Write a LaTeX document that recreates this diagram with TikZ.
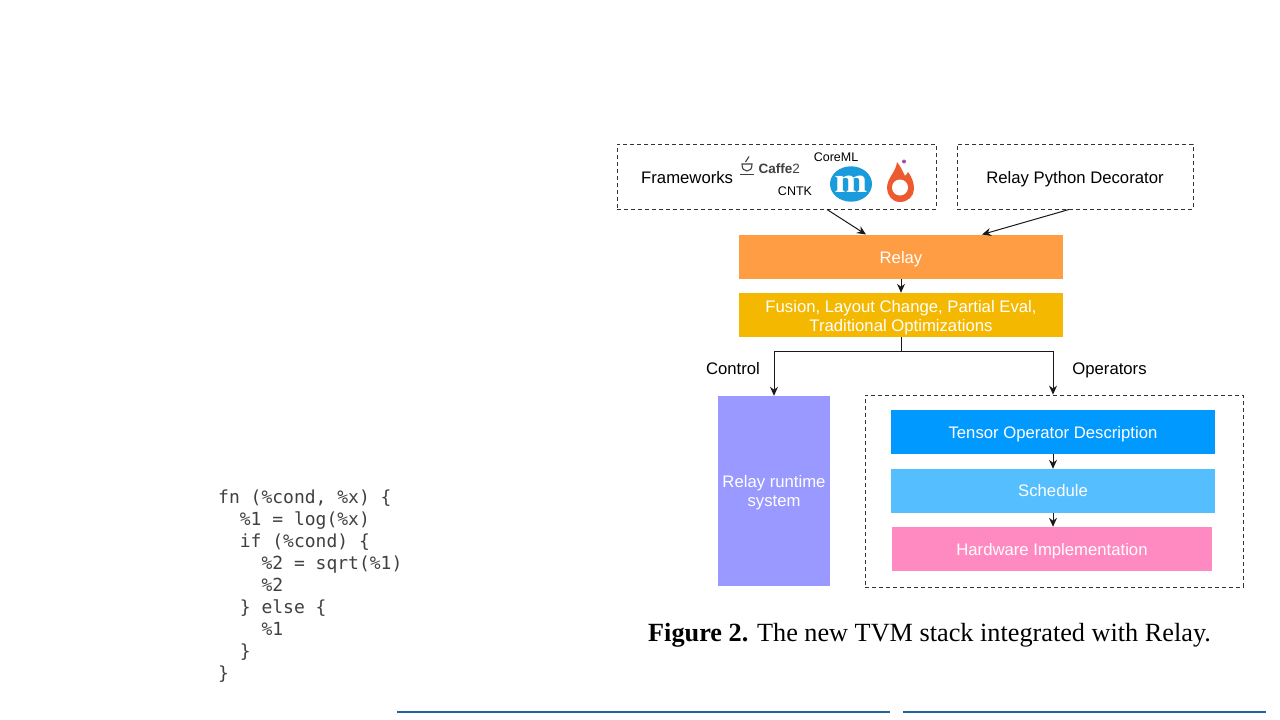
\documentclass[tikz,border=0pt]{standalone}
\usepackage{fontspec}
\usepackage{xcolor}
\usetikzlibrary{arrows.meta}
\setmainfont{Liberation Sans}
\newfontfamily\capfont{Liberation Serif}
\newfontfamily\codefont{DejaVu Sans Mono}
\definecolor{relayorange}{HTML}{FF9D45}
\definecolor{fusionyellow}{HTML}{F5B800}
\definecolor{runtimeviolet}{HTML}{9999FF}
\definecolor{tensorblue}{HTML}{0099FF}
\definecolor{scheduleblue}{HTML}{54BEFF}
\definecolor{hardwarepink}{HTML}{FF8AC2}
\definecolor{rulelineblue}{HTML}{22659C}
\definecolor{flameorange}{HTML}{EE5A2F}
\definecolor{mlblue}{HTML}{1A9BDB}
\tikzset{
  block/.style={inner sep=0pt},
  blocktext/.style={inner sep=0pt, text=white, align=center, font=\fontsize{16.7}{19.5}\selectfont},
  dashbox/.style={draw=black!80, dash pattern=on 4pt off 3pt, inner sep=0pt, line width=0.8pt},
  plaintext/.style={inner sep=0pt, font=\fontsize{16.7}{19.5}\selectfont},
  smalltext/.style={inner sep=0pt, font=\fontsize{12.5}{15}\selectfont},
  arrow/.style={-{Stealth[length=9pt, width=8pt]}, line width=1pt, black!90}
}
\begin{document}
\begin{tikzpicture}[x=1pt, y=-1pt]
  \useasboundingbox (0,0) rectangle (1280,720);

  % The two boxes on top
  \node[dashbox, minimum width=319pt, minimum height=65pt] (frameworks) at (776.5,176.5) {};
  \node[dashbox, minimum width=236pt, minimum height=65pt] (decorator) at (1075,176.5) {};
  \node[plaintext, anchor=west] (fwname) at (641,178) {Frameworks};
  \node[plaintext] (decname) at (1075,179) {Relay Python Decorator};

  % Logos inside the frameworks box
  \draw[line width=1.1pt, black!75] (742,164) -- (752,164) .. controls (752,169) and (750,171) .. (747,171)
    .. controls (744,171) and (742,169) .. (742,164) -- cycle;
  \draw[line width=1.1pt, black!75] (740,174.5) -- (754,174.5);
  \draw[line width=1.1pt, black!75] (745.5,162) -- (749,156.5);
  \node[inner sep=0pt, anchor=west, text=black!75, font=\fontsize{13.5}{16}\selectfont] (caffe) at (758.5,169) {\textbf{Caffe}2};
  \node[smalltext] (coreml) at (836,157) {CoreML};
  \node[smalltext] (cntk) at (795,191) {CNTK};
  \fill[mlblue] (851,184) ellipse (21 and 17.7);
  \node[inner sep=0pt, text=white, font=\capfont\bfseries\fontsize{35}{35}\selectfont] (mletter) at (851,184) {\scalebox{1.12}[1]{m}};
  \fill[flameorange] (900,202) .. controls (892,202) and (887,195) .. (887,188)
    .. controls (887,178) and (896,172) .. (897,162)
    .. controls (901,167) and (903,172) .. (905,176)
    .. controls (906,175) and (907,174) .. (908,172)
    .. controls (912,177) and (914,183) .. (914,189)
    .. controls (914,196) and (908,202) .. (900,202) -- cycle;
  \fill[white] (900,187.5) circle (8);
  \fill[violet!70] (904,161.5) circle (2);

  % Main stack
  \node[block, fill=relayorange, minimum width=324pt, minimum height=44pt,
    label={[blocktext, yshift=-2.5pt]center:Relay}] (relay) at (901,257) {};
  \node[block, fill=fusionyellow, minimum width=324pt, minimum height=44pt,
    label={[blocktext, yshift=-2.5pt]center:{Fusion, Layout Change, Partial Eval,\\Traditional Optimizations}}] (fusion) at (901,315) {};
  \node[block, fill=runtimeviolet, minimum width=112pt, minimum height=190pt,
    label={[blocktext, yshift=-1.5pt]center:{Relay runtime\\system}}] (runtime) at (774,491) {};

  % Operators box
  \node[dashbox, minimum width=378pt, minimum height=192pt] (operators) at (1054,491) {};
  \node[block, fill=tensorblue, minimum width=324pt, minimum height=44pt,
    label={[blocktext, yshift=-2.5pt]center:Tensor Operator Description}] (tensor) at (1053,432) {};
  \node[block, fill=scheduleblue, minimum width=324pt, minimum height=44pt,
    label={[blocktext]center:Schedule}] (schedule) at (1053,491) {};
  \node[block, fill=hardwarepink, minimum width=320pt, minimum height=44pt,
    label={[blocktext, yshift=-2.5pt]center:Hardware Implementation}] (hardware) at (1052,549) {};

  \node[plaintext] (control) at (733,369) {Control};
  \node[plaintext] (oplabel) at (1109.5,370.5) {Operators};

  % Arrows
  \coordinate (fwout) at (827,209.5);
  \coordinate (relayin) at (866,234.5);
  \coordinate (decout) at (1069,209.5);
  \coordinate (relayin2) at (982,234.5);
  \coordinate (split) at (901,351);
  \draw[arrow] (fwout) -- (relayin);
  \draw[arrow] (decout) -- (relayin2);
  \draw[arrow] (relay) -- (fusion);
  \draw[line width=1pt, black!90] (fusion.south) -- (split);
  \draw[arrow] (split) -| (runtime.north);
  \draw[arrow] (split) -| (operators.north -| tensor.north);
  \draw[arrow] (tensor) -- (schedule);
  \draw[arrow] (schedule.south -| tensor.south) -- (hardware.north -| tensor.south);

  % Caption
  \node[inner sep=0pt, anchor=base west, font=\capfont\fontsize{26.25}{30}\selectfont] (caption) at (648,641)
    {\textbf{Figure 2.} The new TVM stack integrated with Relay.};

  % Code listing
  \node[inner sep=0pt, anchor=north west, align=left, text=black!75, font=\codefont\fontsize{18}{22}\selectfont] (code) at (218,490)
    {fn (\%cond, \%x) \{\\
    \ \ \%1 = log(\%x)\\
    \ \ if (\%cond) \{\\
    \ \ \ \ \%2 = sqrt(\%1)\\
    \ \ \ \ \%2\\
    \ \ \} else \{\\
    \ \ \ \ \%1\\
    \ \ \}\\
    \}};

  % Rules at the bottom
  \coordinate (ruleA) at (397,712);
  \coordinate (ruleB) at (890,712);
  \coordinate (ruleC) at (903,712);
  \coordinate (ruleD) at (1266,712);
  \draw[rulelineblue, line width=1.6pt] (ruleA) -- (ruleB);
  \draw[rulelineblue, line width=1.6pt] (ruleC) -- (ruleD);
\end{tikzpicture}
\end{document}
